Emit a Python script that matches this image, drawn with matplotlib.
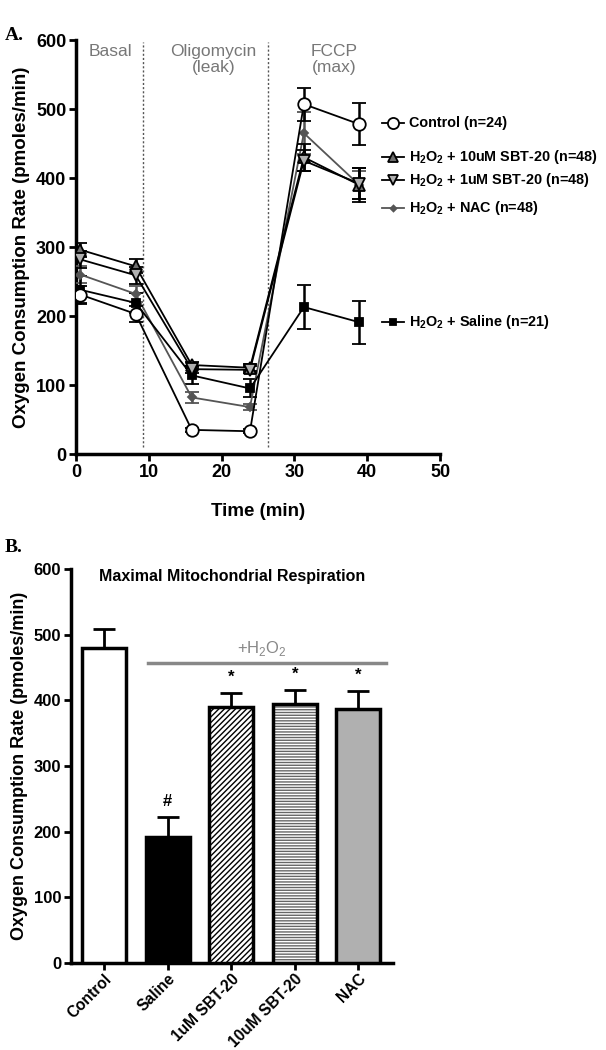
import matplotlib
matplotlib.use("Agg")
import matplotlib.pyplot as plt
import numpy as np

plt.rcParams['font.family'] = ['Liberation Sans', 'DejaVu Sans']
plt.rcParams['mathtext.fontset'] = 'custom'
plt.rcParams['mathtext.rm'] = 'Liberation Sans'
plt.rcParams['mathtext.bf'] = 'Liberation Sans:bold'
plt.rcParams['hatch.linewidth'] = 1.0

# ---------------- Data: panel A ----------------
time = [0.6, 8.2, 15.9, 23.9, 31.3, 38.9]

control = [231, 203, 35, 33, 507, 478]
control_err = [12, 12, 3, 3, 24, 30]

sbt10 = [296, 272, 129, 125, 430, 390]
sbt10_err = [10, 10, 5, 5, 20, 25]

sbt1 = [282, 259, 123, 122, 425, 392]
sbt1_err = [12, 12, 5, 5, 15, 22]

nac = [260, 232, 82, 68, 465, 390]
nac_err = [12, 12, 8, 4, 30, 20]

saline = [238, 219, 114, 95, 213, 191]
saline_err = [20, 15, 13, 13, 32, 31]

series_labels = [
    "Control (n=24)",
    r"$\mathbf{H_2O_2}$ + 10uM SBT-20 (n=48)",
    r"$\mathbf{H_2O_2}$ + 1uM SBT-20 (n=48)",
    r"$\mathbf{H_2O_2}$ + NAC (n=48)",
    r"$\mathbf{H_2O_2}$ + Saline (n=21)",
]
legend_y = [480, 430, 397, 357, 191]

phase_lines = [9.2, 26.4]
phase_labels = ["Basal", "Oligomycin\n(leak)", "FCCP\n(max)"]
phase_label_x = [4.7, 18.9, 35.4]

# ---------------- Data: panel B ----------------
groups = ["Control", "Saline", "1uM SBT-20", "10uM SBT-20", "NAC"]
means = [480, 192, 390, 395, 387]
sems = [29, 30, 21, 21, 27]
marks = ["", "#", "*", "*", "*"]

fig = plt.figure(figsize=(6.06, 10.5), dpi=100)

# ============ Panel A ============
axA = fig.add_axes([0.1254, 0.5676, 0.6007, 0.3943])
styles = [
    dict(marker='o', mfc='white', mec='black', ms=9, color='black', zorder=6),
    dict(marker='^', mfc='#6e6e6e', mec='black', ms=8, color='black', zorder=5),
    dict(marker='v', mfc='#b0b0b0', mec='black', ms=8, color='black', zorder=5),
    dict(marker='D', mfc='#555555', mec='#555555', ms=4, color='#555555', zorder=4),
    dict(marker='s', mfc='black', mec='black', ms=6, color='black', zorder=4),
]
data = [(control, control_err), (sbt10, sbt10_err), (sbt1, sbt1_err),
        (nac, nac_err), (saline, saline_err)]
for (y, e), st in zip(data, styles):
    axA.errorbar(time, y, yerr=e, lw=1.3, elinewidth=1.8, capsize=5, capthick=1.8,
                 ecolor=st['color'], mew=1.3, **st)

for xl in phase_lines:
    axA.plot([xl, xl], [10, 597], ls=(0, (1.5, 1.5)), color='#555555', lw=1)
for tx, lab in zip(phase_label_x, phase_labels):
    axA.text(tx, 594, lab, ha='center', va='top', color='#777777', fontsize=12.5,
             linespacing=1.05)

axA.set_xlim(0, 50)
axA.set_ylim(0, 600)
axA.set_xticks([0, 10, 20, 30, 40, 50])
axA.set_yticks([0, 100, 200, 300, 400, 500, 600])
for s in ['top', 'right']:
    axA.spines[s].set_visible(False)
for s in ['left', 'bottom']:
    axA.spines[s].set_linewidth(2.5)
axA.tick_params(width=2, length=5, labelsize=13, pad=2)
for lab in axA.get_xticklabels() + axA.get_yticklabels():
    lab.set_fontweight('bold')
axA.set_xlabel("Time (min)", fontsize=13.5, fontweight='bold', labelpad=16)
axA.set_ylabel("Oxygen Consumption Rate (pmoles/min)", fontsize=13.5,
               fontweight='bold', labelpad=4)

# manual legend to the right
for lab, ly, st in zip(series_labels, legend_y, styles):
    axA.plot([42.0, 45.0], [ly, ly], color=st['color'], lw=1.3, clip_on=False)
    axA.plot([43.5], [ly], marker=st['marker'], mfc=st['mfc'], mec=st['mec'],
             ms=st['ms'] - 1, mew=1.3, clip_on=False, ls='none')
    axA.text(45.8, ly, lab, ha='left', va='center', fontsize=10.4,
             fontweight='bold')

fig.text(0.008, 0.974, "A.", fontsize=14, fontweight='bold',
         family='Liberation Serif', ha='left', va='top')

# ============ Panel B ============
axB = fig.add_axes([0.117, 0.0829, 0.531, 0.3752])
x = np.arange(len(groups))
faces = ['white', 'black', 'white', 'white', '#b0b0b0']
hatches = [None, None, '//////', '------', None]
hcolors = ['black', 'black', 'black', '#666666', 'black']
for i in range(len(groups)):
    if hatches[i]:
        axB.bar(x[i], means[i], width=0.69, color='white', edgecolor=hcolors[i],
                linewidth=0, hatch=hatches[i], zorder=3)
        axB.bar(x[i], means[i], width=0.69, color='none', edgecolor='black',
                linewidth=2.5, zorder=4)
    else:
        axB.bar(x[i], means[i], width=0.69, color=faces[i], edgecolor='black',
                linewidth=2.5, zorder=3)
    axB.errorbar(x[i], means[i], yerr=[[0], [sems[i]]], color='black',
                 elinewidth=2, capsize=8, capthick=2, zorder=2)
    if marks[i]:
        axB.text(x[i], means[i] + sems[i] + 12, marks[i], ha='center',
                 va='bottom', fontsize=12, fontweight='bold')

axB.plot([0.70, 4.43], [457, 457], color='#888888', lw=2.5, clip_on=False)
axB.text(2.48, 464, r"+H$_2$O$_2$", ha='center', va='bottom', color='#888888',
         fontsize=12)
axB.text(2.02, 588, "Maximal Mitochondrial Respiration", ha='center', va='center',
         fontsize=11.5, fontweight='bold')

axB.set_xlim(-0.52, 4.54)
axB.set_ylim(0, 600)
axB.set_yticks([0, 100, 200, 300, 400, 500, 600])
axB.set_xticks(x)
axB.set_xticklabels(groups, rotation=45, ha='right', rotation_mode='anchor',
                    fontsize=11.2, fontweight='bold')
for lab in axB.get_yticklabels():
    lab.set_fontweight('bold')
for s in ['top', 'right']:
    axB.spines[s].set_visible(False)
for s in ['left', 'bottom']:
    axB.spines[s].set_linewidth(2.5)
axB.tick_params(axis='y', width=2, length=5, labelsize=12, pad=2)
axB.tick_params(axis='x', width=2, length=5, pad=1)
axB.set_ylabel("Oxygen Consumption Rate (pmoles/min)", fontsize=13,
               fontweight='bold', labelpad=4)

fig.text(0.008, 0.487, "B.", fontsize=14, fontweight='bold',
         family='Liberation Serif', ha='left', va='top')

fig.savefig("out.png", dpi=100)
